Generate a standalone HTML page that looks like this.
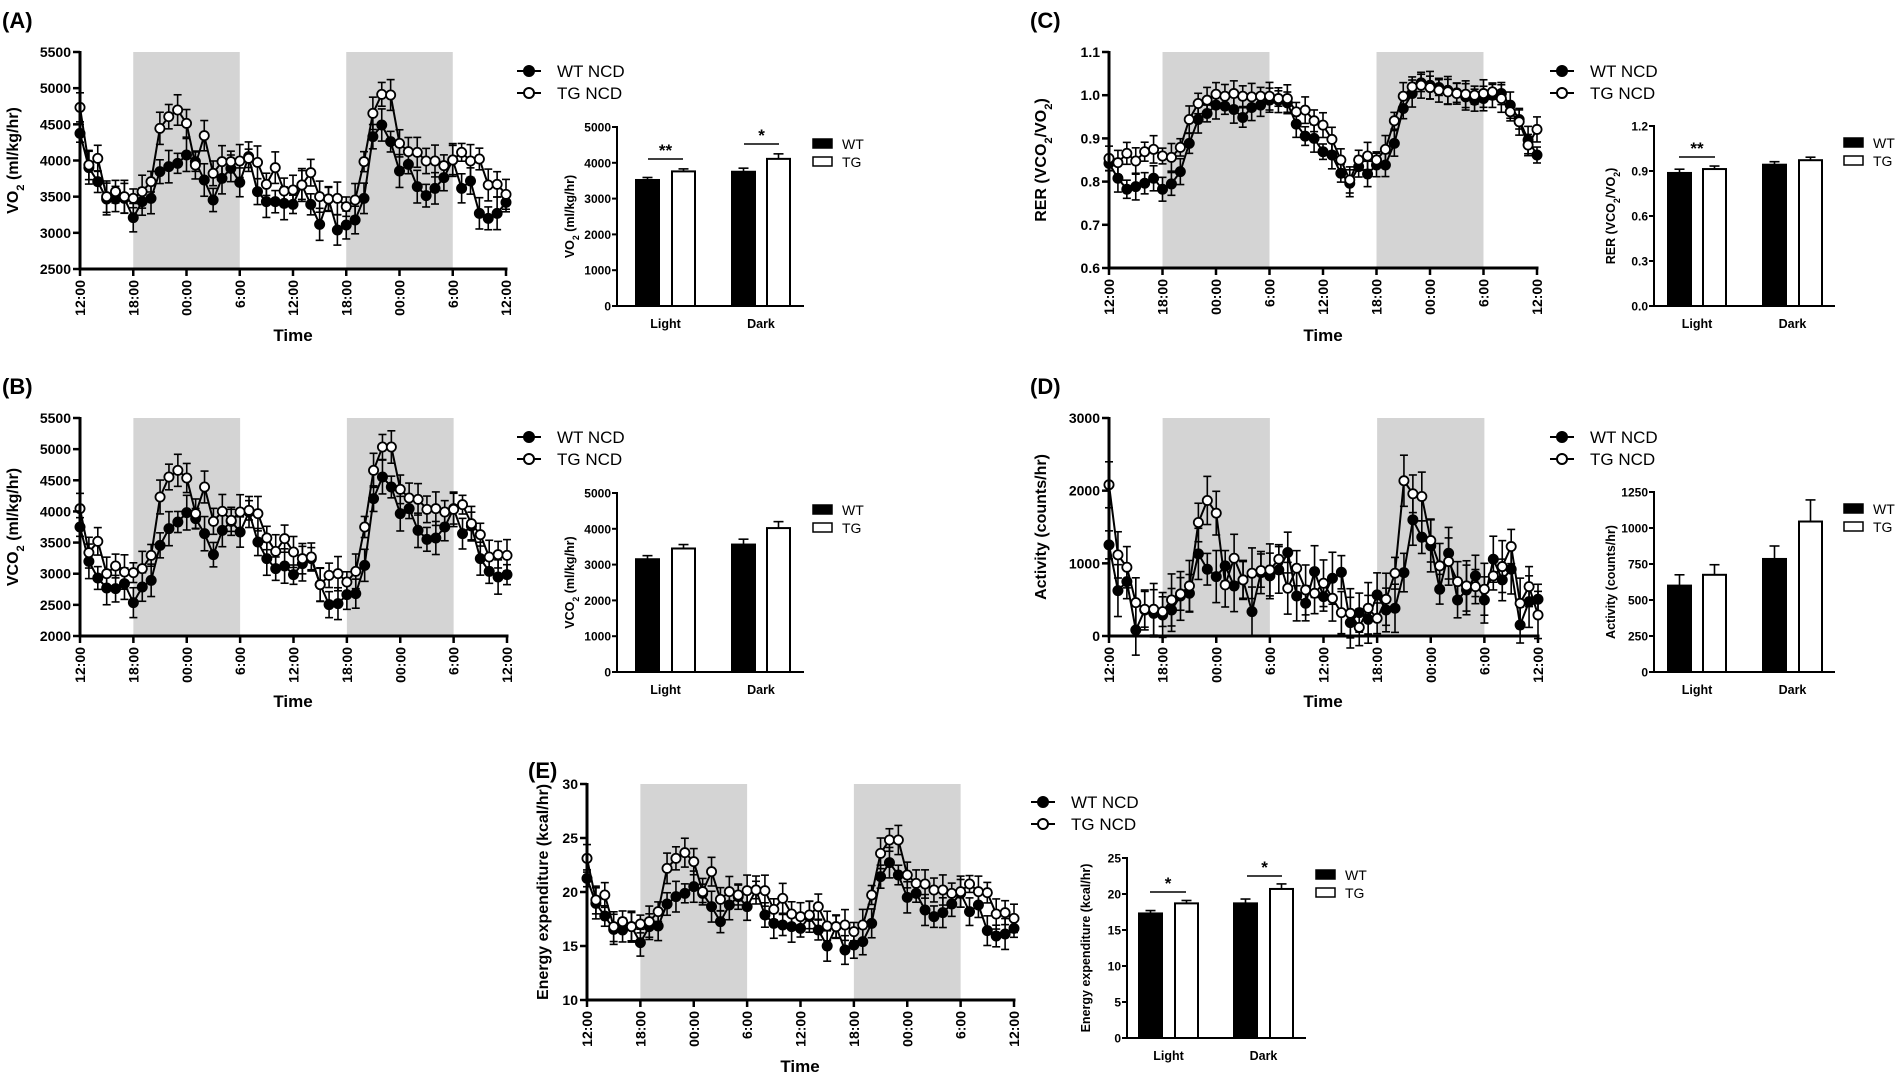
<!DOCTYPE html>
<html><head><meta charset="utf-8"><style>
html,body{margin:0;padding:0;background:#fff;}
svg{display:block;font-family:"Liberation Sans",Arial,sans-serif;}
</style></head><body>
<svg id="s" width="1898" height="1081" viewBox="0 0 1898 1081" xmlns="http://www.w3.org/2000/svg">
<text x="2" y="28" font-size="22" font-weight="bold">(A)</text>
<text x="2" y="394" font-size="22" font-weight="bold">(B)</text>
<text x="1030" y="28" font-size="22" font-weight="bold">(C)</text>
<text x="1030" y="394" font-size="22" font-weight="bold">(D)</text>
<text x="528" y="778" font-size="22" font-weight="bold">(E)</text>
</svg>
<script>
const S=document.getElementById('s');const NS='http://www.w3.org/2000/svg';
function el(t,a,txt){const e=document.createElementNS(NS,t);for(const k in a)e.setAttribute(k,a[k]);if(txt!==undefined)e.textContent=txt;S.appendChild(e);return e;}
function line(x1,y1,x2,y2,w){el('line',{x1,y1,x2,y2,stroke:'#000','stroke-width':w||2});}
function rtext(x,y,html,size){const t=el('text',{x:0,y:0,transform:`translate(${x},${y}) rotate(-90)`,'text-anchor':'middle','font-size':size,'font-weight':'bold'});t.innerHTML=html;}
const sub=s=>`<tspan baseline-shift="sub" font-size="70%">${s}</tspan>`;
const charts=[
{x0:80,x1:506,y0:52,y1:269,ft:21,fb:672,vmin:2500,vmax:5500,ticks:[2500,3000,3500,4000,4500,5000,5500],fmt:v=>v,err:38,
wt:[265,368,410,462,462,460,518,470,460,380,365,355,330,350,405,465,400,370,412,335,440,470,470,475,478,420,478,538,462,555,540,525,460,275,240,290,378,358,425,452,430,398,345,430,408,505,520,505,472],
tg:[187,360,340,455,440,455,460,440,410,250,215,195,235,360,272,385,350,350,348,340,352,418,368,438,435,420,383,455,462,460,485,465,350,205,148,150,295,320,322,348,348,362,345,322,348,342,420,418,448],
yl:'VO'+sub('2')+' (ml/kg/hr)',ylx:18,tl:[293,341],leg:[529,71]},
{x0:80,x1:507,y0:418,y1:636,ft:18,fb:672,vmin:2000,vmax:5500,ticks:[2000,2500,3000,3500,4000,4500,5000,5500],fmt:v=>v,err:40,
wt:[345,448,498,528,530,515,572,525,505,400,350,330,302,320,365,428,355,328,360,300,390,440,470,462,488,455,440,518,578,575,548,545,460,260,195,225,305,290,355,382,378,345,290,365,342,440,478,495,488],
tg:[290,422,388,485,462,480,482,470,430,255,195,175,198,305,225,328,298,325,300,295,305,378,418,380,420,440,435,518,490,485,510,478,345,175,105,105,232,258,262,292,290,300,292,278,335,368,435,428,430],
yl:'VCO'+sub('2')+' (ml/kg/hr)',ylx:18,tl:[293,707],leg:[529,437]},
{x0:1109,x1:1537,y0:52,y1:268,ft:65,fb:715,vmin:0.6,vmax:1.1,ticks:[0.6,0.7,0.8,0.9,1.0,1.1],fmt:v=>v.toFixed(1),err:32,
wt:[400,445,478,470,460,445,478,462,425,340,268,250,225,228,238,262,232,225,210,210,218,282,318,325,365,375,430,460,410,432,405,405,340,235,190,158,165,172,180,188,200,210,205,195,190,225,268,330,375],
tg:[385,398,370,393,365,358,378,382,352,268,220,210,192,198,190,198,200,198,198,205,205,245,240,272,285,328,390,450,390,378,390,358,272,198,170,165,172,180,185,190,192,195,190,185,205,245,275,345,298],
yl:'RER (VCO'+sub('2')+'/VO'+sub('2')+')',ylx:1046,tl:[1323,341],leg:[1562,71]},
{x0:1109,x1:1538,y0:418,y1:636,ft:55,fb:708,vmin:0,vmax:3000,ticks:[0,1000,2000,3000],fmt:v=>v,err:60,
wt:[435,572,545,690,630,640,645,630,588,580,462,508,530,498,558,540,635,518,528,510,458,588,610,515,590,535,517,668,638,658,585,630,625,518,360,412,438,568,460,600,570,528,600,478,540,508,675,605,598],
tg:[255,465,502,608,628,628,635,600,582,558,368,302,340,555,475,540,520,512,510,478,565,505,570,580,550,595,638,640,682,625,655,598,520,243,282,290,422,498,485,545,558,560,568,528,500,440,610,560,645],
yl:'Activity (counts/hr)',ylx:1046,tl:[1323,707],leg:[1562,437]},
{x0:587,x1:1014,y0:784,y1:1000,ft:12,fb:660,vmin:10,vmax:30,ticks:[10,15,20,25,30],fmt:v=>v,err:36,
wt:[295,370,408,448,450,440,488,440,438,372,350,340,320,340,380,425,375,350,380,330,405,430,435,440,445,410,450,498,440,510,495,485,430,290,248,285,352,340,390,410,398,372,340,395,375,452,468,462,445],
tg:[235,360,345,440,425,440,432,425,395,265,235,218,245,335,275,358,335,345,332,330,332,388,355,402,410,405,380,438,440,435,455,435,345,220,180,180,285,310,312,330,330,340,335,312,335,338,402,398,415],
yl:'Energy expenditure (kcal/hr)',ylx:548,tl:[800,1072],leg:[1043,802]}
];
const tlab=['12:00','18:00','00:00','6:00','12:00','18:00','00:00','6:00','12:00'];
charts.forEach((c,ci)=>{
 const X=h=>c.x0+(c.x1-c.x0)*h/48;
 const Y=v=>c.y1-(c.y1-c.y0)*(v-c.vmin)/(c.vmax-c.vmin);
 const F=f=>c.y0+(c.y1-c.y0)*(f-c.ft)/(c.fb-c.ft);
 el('rect',{x:X(6),y:c.y0,width:X(18)-X(6),height:c.y1-c.y0,fill:'#d4d4d4'});
 el('rect',{x:X(30),y:c.y0,width:X(42)-X(30),height:c.y1-c.y0,fill:'#d4d4d4'});
 [c.wt,c.tg].forEach((d,si)=>{d.forEach((v,i)=>{const e=c.err*(0.7+0.6*Math.abs(Math.sin(i*1.7+si*2.3)));const x=X(i);const ya=F(v-e),yb=F(v+e);
  line(x,ya,x,yb,1.6);line(x-4,ya,x+4,ya,1.6);line(x-4,yb,x+4,yb,1.6);});});
 [c.wt,c.tg].forEach((d,si)=>{
  el('polyline',{points:d.map((v,i)=>X(i)+','+F(v)).join(' '),fill:'none',stroke:'#000','stroke-width':2});
  d.forEach((v,i)=>el('circle',{cx:X(i),cy:F(v),r:4.6,fill:si?'#fff':'#000',stroke:'#000','stroke-width':1.8}));
 });
 line(c.x0,c.y0-1,c.x0,c.y1+1.5,3);line(c.x0-1.5,c.y1,c.x1+1.5,c.y1,3);
 c.ticks.forEach(t=>{const y=Y(t);line(c.x0-7,y,c.x0,y,2.5);el('text',{x:c.x0-9,y:y+5,'text-anchor':'end','font-size':14,'font-weight':'bold'},c.fmt(t));});
 tlab.forEach((t,k)=>{const x=X(k*6);line(x,c.y1,x,c.y1+7,2.5);el('text',{x:0,y:0,transform:`translate(${x+5},${c.y1+11}) rotate(-90)`,'text-anchor':'end','font-size':14,'font-weight':'bold'},t);});
 rtext(c.ylx,(c.y0+c.y1)/2,c.yl,16);
 el('text',{x:c.tl[0],y:c.tl[1],'text-anchor':'middle','font-size':17,'font-weight':'bold'},'Time');
 const [lx,ly]=c.leg;
 [['WT NCD','#000'],['TG NCD','#fff']].forEach((l,k)=>{const y=ly+k*22;line(lx-12,y,lx+12,y,2);el('circle',{cx:lx,cy:y,r:5,fill:l[1],stroke:'#000','stroke-width':2});el('text',{x:lx+28,y:y+6,'font-size':17},l[0]);});
});
const bars=[
{ax:617,top:127,bot:306,end:804,max:5000,ticks:[0,1000,2000,3000,4000,5000],fmt:v=>v,bx:[636,672,732,767],bw:23,v:[3520,3760,3750,4110],e:[70,70,100,140],yl:'VO'+sub('2')+' (ml/kg/hr)',ylx:574,lg:813,sig:[[648,683,159,'**'],[744,779,144,'*']]},
{ax:617,top:493,bot:672,end:804,max:5000,ticks:[0,1000,2000,3000,4000,5000],fmt:v=>v,bx:[636,672,732,767],bw:23,v:[3150,3450,3560,4020],e:[100,110,150,180],yl:'VCO'+sub('2')+' (ml/kg/hr)',ylx:574,lg:813,sig:[]},
{ax:1654,top:126,bot:306,end:1835,max:1.2,ticks:[0,0.3,0.6,0.9,1.2],fmt:v=>v.toFixed(1),bx:[1668,1703,1763,1799],bw:23,v:[0.887,0.913,0.942,0.972],e:[0.025,0.02,0.02,0.02],yl:'RER (VCO'+sub('2')+'/VO'+sub('2')+')',ylx:1615,lg:1844,sig:[[1679,1715,157,'**']]},
{ax:1654,top:492,bot:672,end:1835,max:1250,ticks:[0,250,500,750,1000,1250],fmt:v=>v,bx:[1668,1703,1763,1799],bw:23,v:[600,675,785,1045],e:[75,70,90,150],yl:'Activity (counts/hr)',ylx:1615,lg:1844,sig:[]},
{ax:1127,top:858,bot:1038,end:1306,max:25,ticks:[0,5,10,15,20,25],fmt:v=>v,bx:[1139,1175,1234,1270],bw:23,v:[17.3,18.7,18.7,20.7],e:[0.4,0.4,0.6,0.7],yl:'Energy expenditure (kcal/hr)',ylx:1090,lg:1316,sig:[[1150,1186,892,'*'],[1247,1282,876,'*']]}
];
bars.forEach(b=>{
 const Y=v=>b.bot-(b.bot-b.top)*v/b.max;
 b.v.forEach((v,i)=>{const x=b.bx[i];const y=Y(v);const cx=x+b.bw/2;const ye=Y(v+b.e[i]);
  line(cx,y,cx,ye,1.6);line(cx-5,ye,cx+5,ye,1.6);
  el('rect',{x:x,y:y,width:b.bw,height:b.bot-y,fill:i%2?'#fff':'#000',stroke:'#000','stroke-width':2});});
 line(b.ax,b.top-1,b.ax,b.bot+1,2);line(b.ax,b.bot,b.end,b.bot,2);
 b.ticks.forEach(t=>{const y=Y(t);line(b.ax-5,y,b.ax,y,2);el('text',{x:b.ax-6,y:y+4.5,'text-anchor':'end','font-size':12,'font-weight':'bold'},b.fmt(t));});
 el('text',{x:(b.bx[0]+b.bx[1]+b.bw)/2,y:b.bot+22,'text-anchor':'middle','font-size':12.5,'font-weight':'bold'},'Light');
 el('text',{x:(b.bx[2]+b.bx[3]+b.bw)/2,y:b.bot+22,'text-anchor':'middle','font-size':12.5,'font-weight':'bold'},'Dark');
 rtext(b.ylx,(b.top+b.bot)/2,b.yl,12.5);
 const ly=b.top+12;
 el('rect',{x:b.lg,y:ly,width:19,height:9,fill:'#000',stroke:'#000','stroke-width':1.5});
 el('rect',{x:b.lg,y:ly+18,width:19,height:9,fill:'#fff',stroke:'#000','stroke-width':1.5});
 el('text',{x:b.lg+29,y:ly+10,'font-size':14},'WT');el('text',{x:b.lg+29,y:ly+28,'font-size':14},'TG');
 b.sig.forEach(s=>{line(s[0],s[2],s[1],s[2],1.5);el('text',{x:(s[0]+s[1])/2,y:s[2]-3,'text-anchor':'middle','font-size':17,'font-weight':'bold'},s[3]);});
});
</script>
</body></html>
